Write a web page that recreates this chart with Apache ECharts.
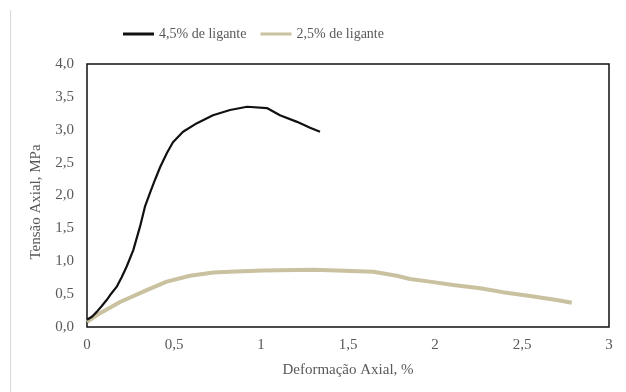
<!DOCTYPE html>
<html>
<head>
<meta charset="utf-8">
<script src="https://cdn.jsdelivr.net/npm/echarts@6/dist/echarts.min.js"></script>
<style>html,body{margin:0;padding:0;background:#fff}#c{width:626px;height:392px}</style>
</head>
<body>
<div id="c"></div>
<script>
const seriesNames = ['4,5% de ligante', '2,5% de ligante'];
const strain45 = [0, 0.03, 0.056, 0.085, 0.113, 0.14, 0.17, 0.2, 0.228, 0.266, 0.305, 0.333, 0.362, 0.391, 0.42, 0.46, 0.494, 0.552, 0.632, 0.724, 0.822, 0.92, 1.034, 1.109, 1.207, 1.282, 1.339];
const stress45 = [0.11, 0.16, 0.23, 0.32, 0.41, 0.51, 0.61, 0.76, 0.92, 1.17, 1.53, 1.83, 2.04, 2.24, 2.43, 2.65, 2.81, 2.97, 3.10, 3.22, 3.30, 3.35, 3.33, 3.22, 3.12, 3.03, 2.97];
const strain25 = [0, 0.075, 0.19, 0.343, 0.458, 0.592, 0.726, 0.82, 1.013, 1.30, 1.435, 1.645, 1.78, 1.856, 1.97, 2.105, 2.26, 2.39, 2.546, 2.70, 2.786];
const stress25 = [0.08, 0.21, 0.38, 0.56, 0.69, 0.78, 0.83, 0.84, 0.86, 0.87, 0.86, 0.84, 0.78, 0.73, 0.69, 0.64, 0.59, 0.53, 0.47, 0.41, 0.37];

const FONT = 'Liberation Serif';
const GRAY = '#595959';
const FS = 15;
const pair = (xs, ys) => xs.map((x, i) => [x, ys[i]]);

const chart = echarts.init(document.getElementById('c'), null, {renderer: 'canvas'});
chart.setOption({
  animation: false,
  backgroundColor: '#fff',
  graphic: [{
    type: 'line', shape: {x1: 10.5, y1: 10, x2: 10.5, y2: 392},
    style: {stroke: '#d9d9d9', lineWidth: 1}
  }],
  legend: {
    left: 118, top: 22, itemGap: 14, itemWidth: 31, itemHeight: 3, icon: 'rect',
    textStyle: {fontFamily: FONT, fontSize: 14, color: GRAY},
    data: seriesNames
  },
  grid: {left: 87, right: 17, top: 64, bottom: 65, show: true, borderColor: '#111', borderWidth: 1.5, backgroundColor: 'transparent'},
  xAxis: {
    type: 'value', min: 0, max: 3, interval: 0.5,
    name: 'Deformação Axial, %', nameLocation: 'middle', nameGap: 36,
    nameTextStyle: {fontFamily: FONT, fontSize: FS, color: GRAY},
    axisLine: {show: false}, axisTick: {show: false}, splitLine: {show: false},
    axisLabel: {fontFamily: FONT, fontSize: FS, color: GRAY, margin: 11,
      formatter: v => String(v).replace('.', ',')}
  },
  yAxis: {
    type: 'value', min: 0, max: 4, interval: 0.5,
    name: 'Tensão Axial, MPa', nameLocation: 'middle', nameGap: 43,
    nameTextStyle: {fontFamily: FONT, fontSize: FS, color: GRAY, padding: [0, 13, 0, 0]},
    axisLine: {show: false}, axisTick: {show: false}, splitLine: {show: false},
    axisLabel: {fontFamily: FONT, fontSize: FS, color: GRAY, margin: 13,
      formatter: v => v.toFixed(1).replace('.', ',')}
  },
  series: [
    {name: seriesNames[0], type: 'line', data: pair(strain45, stress45), showSymbol: false, symbol: 'none',
      lineStyle: {color: '#111', width: 2.2}, itemStyle: {color: '#111'}, z: 3},
    {name: seriesNames[1], type: 'line', data: pair(strain25, stress25), showSymbol: false, symbol: 'none',
      lineStyle: {color: '#c9c19f', width: 4}, itemStyle: {color: '#c9c19f'}, z: 2}
  ]
});
</script>
</body>
</html>
